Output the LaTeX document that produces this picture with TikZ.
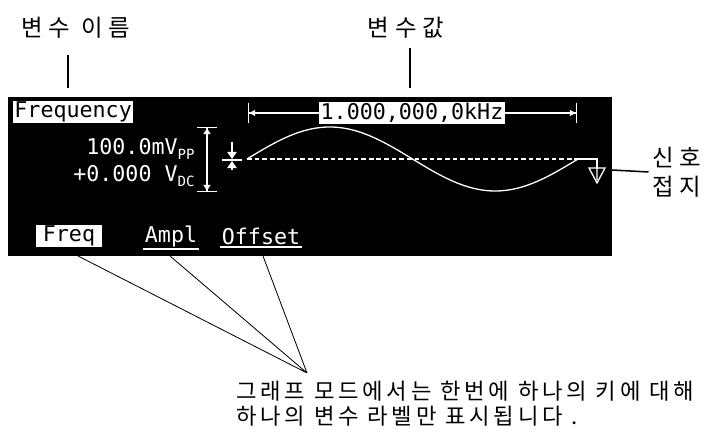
\documentclass[tikz,border=0pt]{standalone}
\usepackage{fontspec}
\setmainfont[LetterSpace=17]{Noto Sans CJK KR}
\newfontfamily\korwide[LetterSpace=25]{Noto Sans CJK KR}
\newfontfamily\lcd{DejaVu Sans Mono}
\usetikzlibrary{arrows.meta}
\newcommand{\lcdsub}[1]{\raisebox{-0.4ex}{\fontsize{12}{12}\selectfont #1}}

\begin{document}
\begin{tikzpicture}[x=0.03cm,y=-0.03cm,
    lbl/.style={font=\korwide\fontsize{20}{25}\selectfont,inner sep=0},
    lcdtxt/.style={font=\lcd\fontsize{18.5}{18.5}\selectfont,text=white,inner sep=1pt},
    inv/.style={lcdtxt,fill=white,text=black},
    wline/.style={white,line width=1.1pt},
    pointer/.style={line width=1.3pt,shorten <=14pt},
    leader/.style={line width=0.7pt}]
  \useasboundingbox (0,0) rectangle (705,433);
  % screen
  \fill (8,97) rectangle (612,256);
  \node[inv,anchor=west] (param) at (13,112) {Frequency};
  \node[inv] (valbox) at (412,113) {1.000,000,0kHz};
  \node[lcdtxt,anchor=east] (ampl) at (196,149) {100.0mV\lcdsub{PP}};
  \node[lcdtxt,anchor=east] (offs) at (196,176) {+0.000 V\lcdsub{DC}};
  \node[inv,inner xsep=6pt,minimum height=19pt] (freqkey) at (69,236) {Freq};
  \node[lcdtxt] (amplkey) at (171,236) {Ampl};
  \node[lcdtxt] (offkey) at (261,236) {Offset};
  \draw[wline] ([yshift=-1pt]amplkey.south west) -- ([yshift=-1pt]amplkey.south east);
  \draw[wline] ([yshift=-1pt]offkey.south west) -- ([yshift=-1pt]offkey.south east);
  % span and level markers
  \coordinate (spanl) at (248,113);
  \coordinate (spanr) at (577,113);
  \draw[wline,{Bar[width=17pt]Triangle[length=5pt,width=5pt]}-] (spanl) -- (valbox.west);
  \draw[wline,-{Triangle[length=5pt,width=5pt]Bar[width=17pt]}] (valbox.east) -- (spanr);
  \draw[wline,{Bar[width=17pt]Triangle[length=5pt,width=6pt]}-{Triangle[length=5pt,width=6pt]Bar[width=17pt]}] (207,127) -- (207,192);
  \draw[wline,-{Triangle[length=6pt,width=8pt]}] (232,142) -- (232,159);
  \draw[wline,-{Triangle[length=6pt,width=8pt]}] (232,170) -- (232,161);
  \draw[wline] (222,160) -- (242,160);
  % waveform
  \draw[white,line width=1pt,dash pattern=on 4pt off 2.5pt] (247,159) -- (578,159);
  \draw[wline] plot[domain=0:360,samples=73] ({247+0.9194*\x},{159-32*sin(\x)});
  \draw[wline] (578,159) -- (597,159) -- (597,168);
  \draw[wline] (589,168) -- (605,168) -- (597,183) -- cycle (597,168) -- (597,180);
  % labels
  \node[lbl] (varname) at (76,28) {변수 이름};
  \node[lbl] (varvalue) at (406,28) {변수값};
  \node[lbl,anchor=west,align=left] (gndlbl) at (652,172) {신호\\접지};
  \node[anchor=west,align=left,inner sep=0,font=\fontsize{19}{21.5}\selectfont] (note) at (236,404)
    {그래프 모드에서는 한번에 하나의 키에 대해\\하나의 변수 라벨만 표시됩니다 .};
  \coordinate (nametip) at (68,88);
  \coordinate (valtip) at (410,88);
  \coordinate (edge) at (612,170);
  \coordinate (freqfoot) at (78,256);
  \coordinate (amplfoot) at (170,256);
  \coordinate (offfoot) at (263,256);
  \coordinate (meet) at (307,373);
  \draw[pointer] (varname.south -| nametip) -- (nametip);
  \draw[pointer,shorten <=8pt] (varvalue.south -| valtip) -- (valtip);
  \draw[line width=1.3pt] (edge) -- ([xshift=-3pt]gndlbl.west);
  \draw[leader] (freqfoot) -- (meet) (amplfoot) -- (meet) (offfoot) -- (meet);
\end{tikzpicture}
\end{document}
